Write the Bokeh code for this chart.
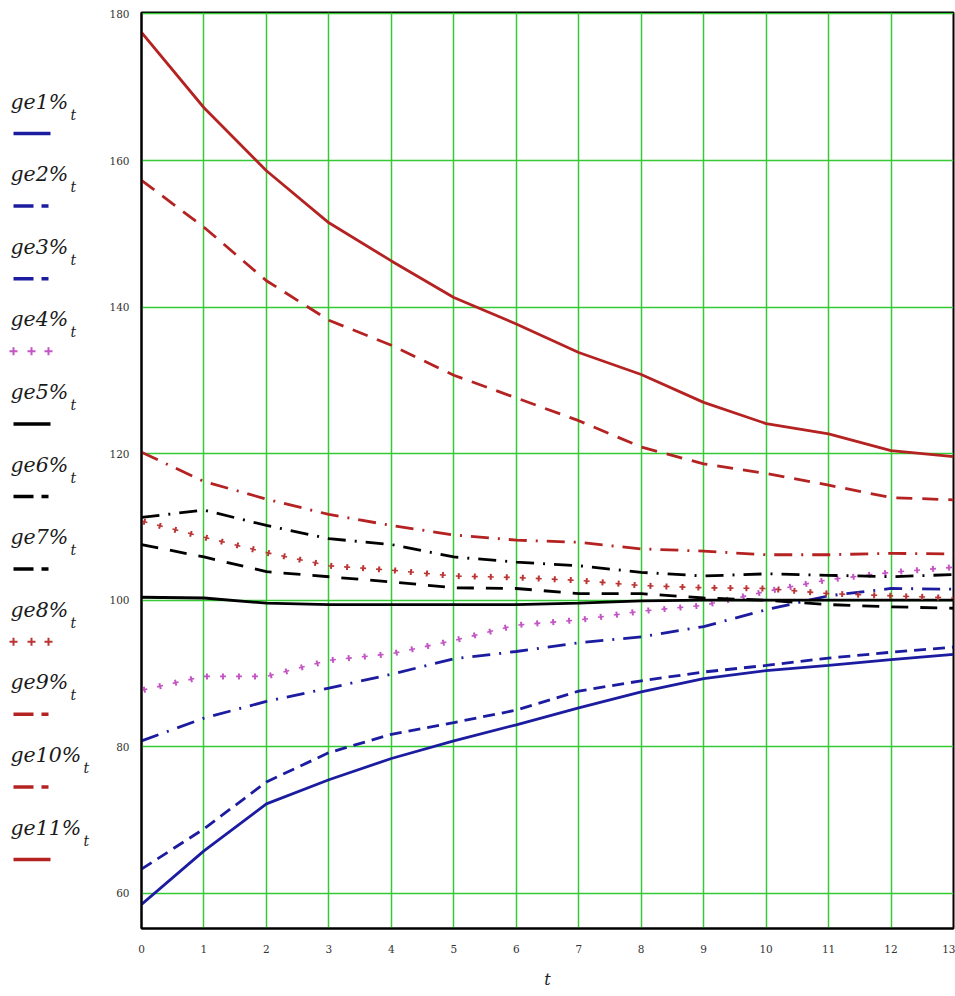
from bokeh.plotting import figure
from bokeh.models import Range1d, FixedTicker
from bokeh.layouts import row
from bokeh.embed import file_html
from bokeh.resources import INLINE
from bokeh.core.properties import value

# ---------------- data ----------------
t = list(range(14))
x_ticks = list(range(14))
y_ticks = [60, 80, 100, 120, 140, 160, 180]

ge1 = [58.5, 65.8, 72.2, 75.5, 78.4, 80.8, 83.0, 85.3, 87.5, 89.3, 90.4, 91.1, 91.9, 92.6]
ge2 = [63.3, 68.8, 75.2, 79.2, 81.7, 83.3, 85.0, 87.6, 89.0, 90.2, 91.1, 92.1, 92.9, 93.6]
ge3 = [80.8, 83.9, 86.2, 88.0, 89.9, 92.0, 93.0, 94.2, 95.0, 96.4, 98.7, 100.6, 101.6, 101.5]
ge4 = [87.7, 89.6, 89.6, 91.8, 92.7, 94.5, 96.6, 97.3, 98.5, 99.3, 101.2, 102.8, 103.8, 104.5]
ge5 = [100.4, 100.3, 99.6, 99.4, 99.4, 99.4, 99.4, 99.6, 99.9, 100.0, 100.0, 100.0, 100.0, 100.0]
ge6 = [111.3, 112.3, 110.2, 108.4, 107.6, 105.9, 105.2, 104.7, 103.8, 103.3, 103.6, 103.4, 103.2, 103.5]
ge7 = [107.6, 105.9, 103.9, 103.2, 102.5, 101.7, 101.6, 100.9, 100.9, 100.3, 100.0, 99.4, 99.1, 98.9]
ge8 = [110.8, 108.6, 106.5, 104.7, 104.1, 103.3, 103.1, 102.7, 102.0, 101.7, 101.6, 100.9, 100.6, 100.3]
ge9 = [120.2, 116.2, 113.8, 111.7, 110.2, 108.9, 108.2, 107.9, 107.0, 106.7, 106.2, 106.2, 106.4, 106.3]
ge10 = [157.3, 150.9, 143.6, 138.2, 134.8, 130.7, 127.6, 124.5, 120.9, 118.6, 117.3, 115.7, 114.0, 113.7]
ge11 = [177.5, 167.2, 158.6, 151.5, 146.3, 141.3, 137.7, 133.8, 130.8, 127.0, 124.1, 122.7, 120.4, 119.6]

names = ["ge1%", "ge2%", "ge3%", "ge4%", "ge5%", "ge6%", "ge7%", "ge8%", "ge9%", "ge10%", "ge11%"]
series = [ge1, ge2, ge3, ge4, ge5, ge6, ge7, ge8, ge9, ge10, ge11]

# ---------------- styles ----------------
BLUE = "#1c1ca0"
RED = "#b52222"
BLACK = "#000000"
MAGENTA = "#c455c4"
REDPLUS = "#bb3535"
GREEN = "#36c936"

styles = [
    (BLUE, "solid"), (BLUE, "12 7"), (BLUE, "18 9 2 9"), (MAGENTA, "plus"),
    (BLACK, "solid"), (BLACK, "18 9 2 9"), (BLACK, "17 12"), (REDPLUS, "plus"),
    (RED, "18 9 2 9"), (RED, "16 10"), (RED, "solid"),
]

H = 994
LEG_W = 100
MAIN_W = 855
TOP = 12
BOTTOM_BORDER = 66
FRAME_BOTTOM = H - BOTTOM_BORDER

# ---------------- main chart ----------------
p = figure(width=MAIN_W, height=H, output_backend="svg", toolbar_location=None,
           x_range=Range1d(0, 13), y_range=Range1d(55.2, 180.2),
           min_border_left=41, min_border_right=2, min_border_top=TOP,
           min_border_bottom=BOTTOM_BORDER)
p.background_fill_color = "white"
p.border_fill_color = "white"
p.outline_line_color = "black"
p.outline_line_width = 2

p.xaxis.ticker = FixedTicker(ticks=x_ticks)
p.yaxis.ticker = FixedTicker(ticks=y_ticks)
for ax in (p.xaxis[0], p.yaxis[0]):
    ax.axis_line_color = "black"
    ax.axis_line_width = 2
    ax.major_tick_line_color = None
    ax.minor_tick_line_color = None
    ax.major_label_text_font = "DejaVu Serif"
    ax.major_label_text_font_size = "10.5px"
    ax.major_label_text_color = "#333333"
p.xaxis.major_label_standoff = 10
p.yaxis.major_label_standoff = 6
p.xaxis.axis_label = "t"
p.xaxis.axis_label_text_font = "DejaVu Serif"
p.xaxis.axis_label_text_font_style = "italic"
p.xaxis.axis_label_text_font_size = "16px"
p.xaxis.axis_label_text_color = "#222222"
p.xaxis.axis_label_standoff = 14

p.xgrid.ticker = FixedTicker(ticks=x_ticks)
p.ygrid.ticker = FixedTicker(ticks=y_ticks)
p.grid.grid_line_color = GREEN
p.grid.grid_line_width = 1.5
p.grid.grid_line_alpha = 1.0

for vals, (col, kind) in zip(series, styles):
    if kind == "plus":
        p.line(t, vals, line_color=col, line_width=1.6, line_dash="6 10", line_cap="butt")
        p.line(t, vals, line_color=col, line_width=6, line_dash="2 14",
               line_dash_offset=14, line_cap="butt")
    elif kind == "solid":
        p.line(t, vals, line_color=col, line_width=2.8)
    else:
        p.line(t, vals, line_color=col, line_width=2.8, line_dash=kind, line_cap="butt")

# ---------------- left legend ----------------
# (the row aligns this figure's frame with the chart frame: rows TOP..FRAME_BOTTOM)
leg = figure(width=LEG_W, height=H, output_backend="svg", toolbar_location=None,
             x_range=Range1d(0, LEG_W), y_range=Range1d(FRAME_BOTTOM, TOP),
             x_axis_location=None, y_axis_location=None, min_border=0)
leg.grid.visible = False
leg.outline_line_color = None
leg.background_fill_color = "white"
leg.border_fill_color = "white"

FS = 20.5
for i, (nm, (col, kind)) in enumerate(zip(names, styles)):
    ty = 101 + 72.6 * i
    sy = ty + 32
    leg.text(x=[10], y=[ty], text=[nm], text_font=value("DejaVu Serif"),
             text_font_style="italic", text_font_size=f"{FS}px", text_color="#1a1a1a",
             text_baseline="middle", text_align="left")
    ndig = len(nm) - 3
    sub_x = 10 + FS * (1.24 + 0.636 * ndig + 0.95) + 2
    leg.text(x=[sub_x], y=[ty + 13], text=["t"], text_font=value("DejaVu Serif"),
             text_font_style="italic", text_font_size="14px", text_color="#1a1a1a",
             text_baseline="middle", text_align="left")
    if kind == "solid":
        leg.segment(x0=[13], y0=[sy], x1=[50], y1=[sy], line_color=col, line_width=3.5)
    elif kind == "plus":
        leg.scatter(x=[13, 31, 48], y=[sy] * 3, marker="cross", size=8,
                    line_color=col, line_width=2)
    else:
        leg.segment(x0=[13, 41], y0=[sy, sy], x1=[33, 48], y1=[sy, sy],
                    line_color=col, line_width=3.5, line_cap="butt")

layout = row(leg, p)
open("out.html", "w").write(file_html(layout, INLINE))
